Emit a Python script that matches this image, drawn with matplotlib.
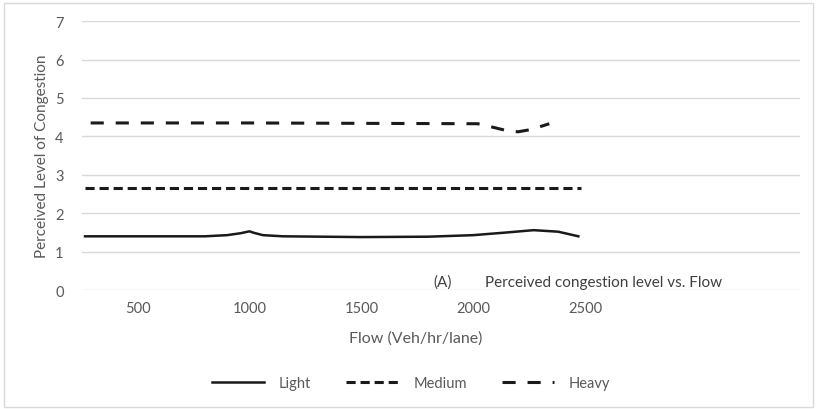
import matplotlib
matplotlib.use("Agg")
import matplotlib.pyplot as plt
from matplotlib.patches import Rectangle

plt.rcParams["font.family"] = ["Lato", "DejaVu Sans"]

# values
light_x = [265, 500, 800, 900, 960, 1000, 1020, 1060, 1150, 1500, 1800, 2000, 2150, 2270, 2380, 2470]
light_y = [1.40, 1.40, 1.40, 1.43, 1.48, 1.53, 1.49, 1.43, 1.40, 1.38, 1.39, 1.43, 1.50, 1.56, 1.52, 1.40]

medium_x = [265, 1000, 1500, 2000, 2480]
medium_y = [2.65, 2.65, 2.65, 2.65, 2.65]

heavy_x = [290, 1000, 1500, 2020, 2080, 2150, 2200, 2260, 2340]
heavy_y = [4.35, 4.35, 4.34, 4.33, 4.25, 4.15, 4.12, 4.18, 4.33]

x_ticks = [500, 1000, 1500, 2000, 2500]
y_ticks = [0, 1, 2, 3, 4, 5, 6, 7]

grey = "#595959"
ink = "#1a1a1a"

fig = plt.figure(figsize=(8.17, 4.10), dpi=100)
ax = fig.add_axes([0.100, 0.290, 0.879, 0.656])

ax.plot(light_x, light_y, color=ink, lw=1.8, label="Light")
ax.plot(medium_x, medium_y, color=ink, lw=2.2, dashes=(3, 1.6), label="Medium")
ax.plot(heavy_x, heavy_y, color=ink, lw=2.2, dashes=(4.3, 3.9), label="Heavy")

ax.set_xlim(250, 3460)
ax.set_ylim(0, 7)
ax.set_xticks(x_ticks)
ax.set_yticks(y_ticks)
ax.grid(axis="y", color="#d9d9d9", lw=1)
ax.set_axisbelow(True)
for s in ax.spines.values():
    s.set_visible(False)
ax.tick_params(length=0, colors=grey, labelsize=10.5, pad=8)
ax.tick_params(axis="y", pad=13)

ax.set_ylabel("Perceived Level of Congestion", color=grey, fontsize=11, labelpad=4)
fig.text(0.509, 0.165, "Flow (Veh/hr/lane)", color=grey, fontsize=11.5, ha="center")

fig.text(0.530, 0.300, "(A)", color="#404040", fontsize=11)
fig.text(0.594, 0.300, "Perceived congestion level vs. Flow", color="#404040", fontsize=11)

fig.legend(loc="center", bbox_to_anchor=(0.503, 0.063), ncol=3, frameon=False,
           fontsize=10.5, labelcolor=grey, handlelength=3.6, columnspacing=2.4,
           handletextpad=1.0)

fig.patches.append(Rectangle((0.005, 0.005), 0.99, 0.985, transform=fig.transFigure,
                             fill=False, ec="#d9d9d9", lw=1))

fig.savefig("out.png", dpi=100)
